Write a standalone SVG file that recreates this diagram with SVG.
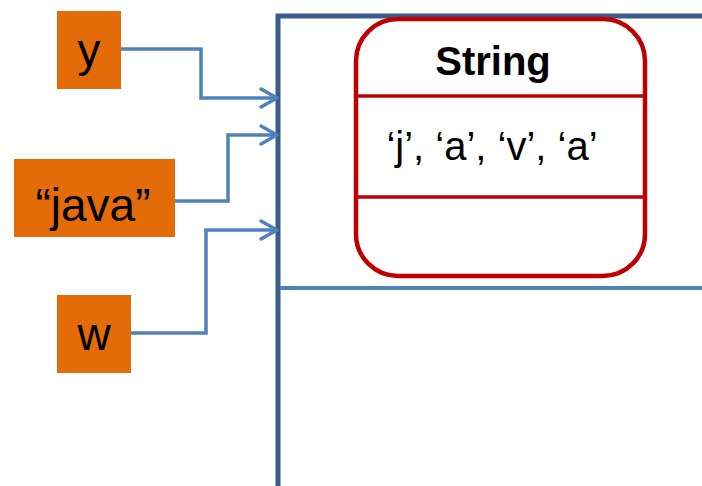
<svg xmlns="http://www.w3.org/2000/svg" width="702" height="486" viewBox="0 0 702 486">
  <style>
    .var { fill: #E36C09; }
    .var-label { font-family: "Liberation Sans", Arial, sans-serif; font-size: 46px; fill: #000; text-anchor: middle; }
    .wire { fill: none; stroke: #4F81BD; stroke-width: 3.5; stroke-linejoin: miter; }
    .head { fill: none; stroke: #4F81BD; stroke-width: 3.5; stroke-linecap: round; stroke-linejoin: round; }
    .frame { fill: none; stroke: #385D8A; stroke-width: 5; }
    .divider { fill: none; stroke: #4F81BD; stroke-width: 4; }
    .obj { fill: #fff; stroke: #C00000; stroke-width: 4.5; }
    .obj-line { stroke: #C00000; stroke-width: 3.5; }
    .title { font-family: "Liberation Sans", Arial, sans-serif; font-size: 40px; font-weight: bold; fill: #000; text-anchor: middle; }
    .field { font-family: "Liberation Sans", Arial, sans-serif; font-size: 40px; fill: #000; text-anchor: middle; }
  </style>

  <!-- heap region frame -->
  <g id="heap">
    <polyline class="frame" points="702,16 278,16 278,486"/>
    <line class="divider" x1="280" y1="288" x2="702" y2="288"/>
  </g>

  <!-- String object -->
  <g id="string-object">
    <rect class="obj" x="356" y="19" width="289" height="257" rx="42" ry="42"/>
    <line class="obj-line" x1="357" y1="96" x2="644" y2="96"/>
    <line class="obj-line" x1="357" y1="197" x2="644" y2="197"/>
    <text class="title" x="493" y="75">String</text>
    <text class="field" x="492" y="160">‘j’, ‘a’, ‘v’, ‘a’</text>
  </g>

  <!-- reference variables -->
  <g id="var-y">
    <rect class="var" x="57" y="11" width="64" height="78"/>
    <text class="var-label" x="89" y="66">y</text>
  </g>
  <g id="var-java">
    <rect class="var" x="14" y="159" width="161" height="78"/>
    <text class="var-label" x="93" y="221">“java”</text>
  </g>
  <g id="var-w">
    <rect class="var" x="57" y="295" width="74" height="78"/>
    <text class="var-label" x="94" y="350">w</text>
  </g>

  <!-- references into the heap -->
  <g id="connectors">
    <polyline class="wire" points="121,49 201,49 201,98 277,98"/>
    <polyline class="head" points="261,89 277,98 261,107"/>
    <polyline class="wire" points="175,201 228,201 228,135 277,135"/>
    <polyline class="head" points="261,126 277,135 261,144"/>
    <polyline class="wire" points="131,333 206,333 206,230 277,230"/>
    <polyline class="head" points="261,221 277,230 261,239"/>
  </g>
</svg>
